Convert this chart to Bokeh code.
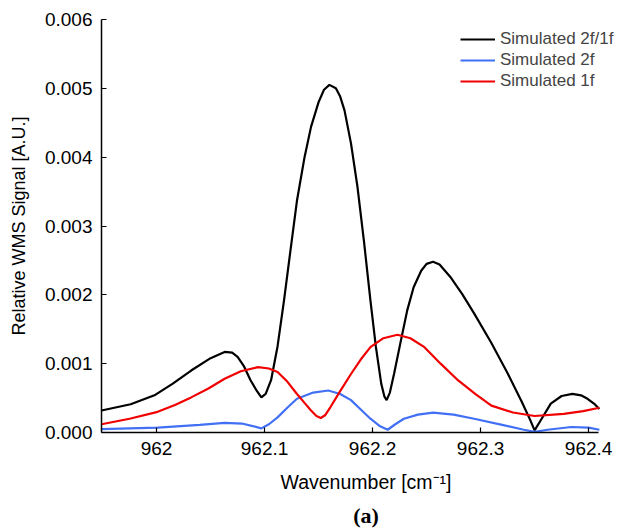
from bokeh.plotting import figure
from bokeh.models import (Legend, LegendItem, FixedTicker, PrintfTickFormatter, Title)
from bokeh.embed import file_html
from bokeh.resources import INLINE

# ---- data ----
x_ratio = [961.949, 961.976, 961.998, 962.015, 962.032, 962.050, 962.063, 962.070, 962.075,
           962.081, 962.087, 962.093, 962.097, 962.101, 962.106, 962.112, 962.118, 962.124,
           962.130, 962.137, 962.143, 962.150, 962.155, 962.160, 962.166, 962.170, 962.174,
           962.180, 962.186, 962.192, 962.198, 962.203, 962.208, 962.211, 962.213, 962.216,
           962.220, 962.226, 962.232, 962.238, 962.245, 962.250, 962.256, 962.262, 962.272,
           962.283, 962.294, 962.310, 962.325, 962.338, 962.346, 962.350, 962.355, 962.365,
           962.375, 962.385, 962.393, 962.399, 962.405, 962.410]
y_ratio = [0.00032, 0.00041, 0.00054, 0.00071, 0.00090, 0.00108, 0.00117, 0.00116, 0.00110,
           0.00096, 0.00076, 0.00060, 0.00051, 0.00056, 0.00076, 0.00125, 0.00192, 0.00265,
           0.00337, 0.00400, 0.00444, 0.00480, 0.00498, 0.00505, 0.00500, 0.00488, 0.00468,
           0.00420, 0.00357, 0.00278, 0.00192, 0.00125, 0.00071, 0.00052, 0.00047, 0.00058,
           0.00086, 0.00132, 0.00177, 0.00211, 0.00235, 0.00245, 0.00248, 0.00244, 0.00226,
           0.00201, 0.00173, 0.00130, 0.00086, 0.00045, 0.00018, 0.00003, 0.00016, 0.00042,
           0.00053, 0.00056, 0.00054, 0.00049, 0.00042, 0.00034]

x_1f = [961.949, 961.975, 962.001, 962.017, 962.032, 962.048, 962.063, 962.078, 962.094,
        962.104, 962.112, 962.121, 962.130, 962.137, 962.143, 962.148, 962.152, 962.156,
        962.161, 962.170, 962.180, 962.189, 962.198, 962.210, 962.223, 962.235, 962.248,
        962.263, 962.279, 962.295, 962.310, 962.330, 962.350, 962.377, 962.395, 962.410]
y_1f = [0.00012, 0.00020, 0.00030, 0.00040, 0.00051, 0.00064, 0.00078, 0.00089, 0.00095,
        0.00093, 0.00088, 0.00074, 0.00056, 0.00043, 0.00032, 0.00024, 0.00021, 0.00025,
        0.00037, 0.00060, 0.00085, 0.00106, 0.00124, 0.00137, 0.00142, 0.00137, 0.00124,
        0.00100, 0.00076, 0.00056, 0.00039, 0.00029, 0.00024, 0.00027, 0.00031, 0.00036]

x_2f = [961.949, 962.001, 962.040, 962.063, 962.079, 962.090, 962.097, 962.104, 962.112,
        962.121, 962.130, 962.145, 962.159, 962.170, 962.180, 962.190, 962.198, 962.207,
        962.214, 962.221, 962.229, 962.242, 962.256, 962.275, 962.294, 962.320, 962.340,
        962.350, 962.362, 962.384, 962.400, 962.410]
y_2f = [0.00005, 0.00007, 0.00011, 0.00014, 0.00013, 0.00009, 0.00006, 0.00012, 0.00022,
        0.00036, 0.00049, 0.00058, 0.00061, 0.00056, 0.00047, 0.00032, 0.00020, 0.00009,
        0.00004, 0.00012, 0.00020, 0.00026, 0.00029, 0.00026, 0.00020, 0.00011, 0.00004,
        0.00001, 0.00004, 0.00008, 0.00007, 0.00004]

x_ticks = [962.0, 962.1, 962.2, 962.3, 962.4]
x_tick_labels = ["962", "962.1", "962.2", "962.3", "962.4"]
y_ticks = [0.0, 0.001, 0.002, 0.003, 0.004, 0.005, 0.006]

series_names = ["Simulated 2f/1f", "Simulated 2f", "Simulated 1f"]

FONT = "Liberation Sans"
X_START, X_AXIS_END, X_VIEW_END = 961.949, 962.4095, 962.4388

p = figure(width=640, height=532, output_backend="svg", toolbar_location=None,
           x_range=(X_START, X_VIEW_END), y_range=(0.0, 0.006))
p.min_border_left = 101
p.min_border_right = 10
p.min_border_top = 19
p.min_border_bottom = 100
p.outline_line_color = None
p.background_fill_color = "white"
p.border_fill_color = "white"
p.xgrid.grid_line_color = None
p.ygrid.grid_line_color = None

r_black = p.line(x_ratio, y_ratio, line_color="black", line_width=2.2)
r_blue = p.line(x_2f, y_2f, line_color="#4270F4", line_width=2.2)
r_red = p.line(x_1f, y_1f, line_color="#F00000", line_width=2.2)

for ax in (p.xaxis[0], p.yaxis[0]):
    ax.major_tick_in = 5
    ax.major_tick_out = 0
    ax.minor_tick_in = 0
    ax.minor_tick_out = 0
    ax.axis_line_width = 1.5
    ax.major_tick_line_width = 1.2
    ax.major_label_text_font = FONT
    ax.major_label_text_font_size = "19px"
    ax.major_label_text_color = "black"
    ax.axis_label_text_font = FONT
    ax.axis_label_text_font_style = "normal"
    ax.axis_label_text_color = "black"

p.xaxis.bounds = (X_START, X_AXIS_END)
p.xaxis.ticker = FixedTicker(ticks=x_ticks)
p.xaxis.major_label_overrides = {t: l for t, l in zip(x_ticks, x_tick_labels)}
p.xaxis.axis_label = "Wavenumber [cm\u207B\u00B9]"
p.xaxis.axis_label_text_font_size = "19.5px"
p.xaxis.major_label_standoff = 9
p.xaxis.axis_label_standoff = 13

p.yaxis.ticker = FixedTicker(ticks=y_ticks)
p.yaxis.formatter = PrintfTickFormatter(format="%.3f")
p.yaxis.axis_label = "Relative WMS Signal [A.U.]"
p.yaxis.axis_label_text_font_size = "18px"
p.yaxis.major_label_standoff = 9
p.yaxis.axis_label_standoff = 13

legend = Legend(items=[LegendItem(label=series_names[0], renderers=[r_black]),
                       LegendItem(label=series_names[1], renderers=[r_blue]),
                       LegendItem(label=series_names[2], renderers=[r_red])],
                location=(359, 341))
legend.border_line_color = None
legend.background_fill_alpha = 0
legend.padding = 0
legend.margin = 0
legend.spacing = 1
legend.glyph_width = 35
legend.glyph_height = 20
legend.label_height = 20
legend.label_standoff = 5
legend.label_text_font = FONT
legend.label_text_font_size = "17px"
p.add_layout(legend, "center")

cap = Title(text="(a)", align="center", text_font="Liberation Serif",
            text_font_style="bold", text_font_size="22px", text_color="black",
            standoff=10)
p.add_layout(cap, "below")

open("out.html", "w").write(file_html(p, INLINE))
